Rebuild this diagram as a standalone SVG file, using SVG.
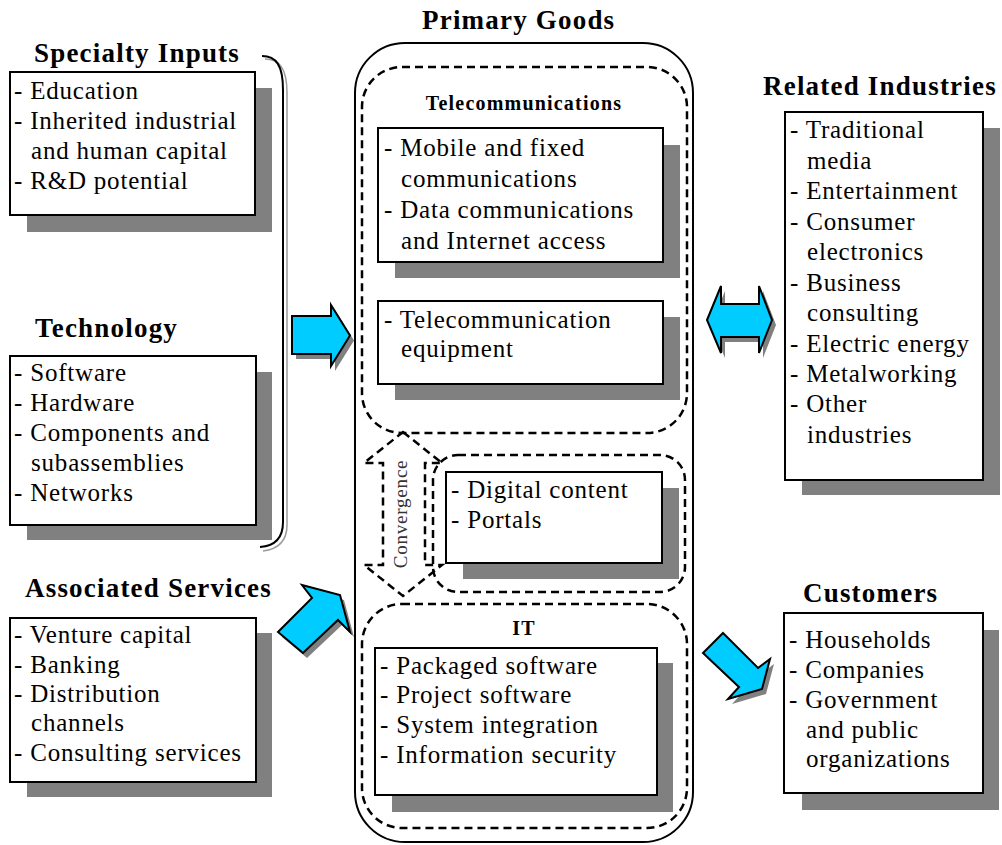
<svg xmlns="http://www.w3.org/2000/svg" width="1002" height="845" viewBox="0 0 1002 845">
<style>
.bg{fill:#fff}
.box{fill:#fff;stroke:#000;stroke-width:2}
.sh{fill:#808080}
.t{font-family:"Liberation Serif","Times New Roman",serif;font-size:25px;letter-spacing:0.8px;fill:#000}
.h{font-family:"Liberation Serif","Times New Roman",serif;font-size:27px;font-weight:bold;letter-spacing:1.2px;fill:#000}
.sub{font-family:"Liberation Serif","Times New Roman",serif;font-size:20px;font-weight:bold;letter-spacing:1.2px;fill:#000;text-anchor:middle}
.dash{fill:none;stroke:#000;stroke-width:2.5;stroke-dasharray:8 5}
.arr{fill:#00CCFF;stroke:#000;stroke-width:2;stroke-linejoin:miter}
.ash{fill:#808080}
</style>
<rect class="bg" x="0" y="0" width="1002" height="845"/>

<g id="specialty-inputs">
  <text class="h" x="34" y="62">Specialty Inputs</text>
  <rect class="sh" x="27" y="88" width="245" height="144"/>
  <rect class="box" x="10" y="72" width="245" height="143"/>
  <text class="t" x="14" y="99">- Education</text>
  <text class="t" x="14" y="129">- Inherited industrial</text>
  <text class="t" x="31" y="159">and human capital</text>
  <text class="t" x="14" y="189">- R&amp;D potential</text>
</g>

<g id="technology">
  <text class="h" x="35" y="337">Technology</text>
  <rect class="sh" x="27" y="372" width="245" height="168"/>
  <rect class="box" x="10" y="356" width="246" height="169"/>
  <text class="t" x="14" y="381">- Software</text>
  <text class="t" x="14" y="411">- Hardware</text>
  <text class="t" x="14" y="441">- Components and</text>
  <text class="t" x="31" y="471">subassemblies</text>
  <text class="t" x="14" y="501">- Networks</text>
</g>

<g id="associated-services">
  <text class="h" x="25" y="597">Associated Services</text>
  <rect class="sh" x="27" y="633" width="245" height="164"/>
  <rect class="box" x="10" y="618" width="246" height="164"/>
  <text class="t" x="14" y="643">- Venture capital</text>
  <text class="t" x="14" y="673">- Banking</text>
  <text class="t" x="14" y="702">- Distribution</text>
  <text class="t" x="31" y="731">channels</text>
  <text class="t" x="14" y="761">- Consulting services</text>
</g>

<g id="primary-goods">
  <text class="h" x="422" y="29">Primary Goods</text>
  <rect x="355" y="43" width="338" height="799" rx="50" ry="50" fill="none" stroke="#000" stroke-width="2"/>
</g>

<g id="telecommunications">
  <rect class="dash" x="362" y="67" width="325" height="366" rx="40" ry="40"/>
  <text class="sub" x="524" y="110">Telecommunications</text>
</g>

<g id="mobile-data">
  <rect class="sh" x="395" y="145" width="285" height="133"/>
  <rect class="box" x="378" y="128" width="285" height="134"/>
  <text class="t" x="384" y="156">- Mobile and fixed</text>
  <text class="t" x="401" y="187">communications</text>
  <text class="t" x="384" y="218">- Data communications</text>
  <text class="t" x="401" y="249">and Internet access</text>
</g>

<g id="telecom-equipment">
  <rect class="sh" x="395" y="317" width="285" height="83"/>
  <rect class="box" x="378" y="301" width="285" height="83"/>
  <text class="t" x="384" y="328">- Telecommunication</text>
  <text class="t" x="401" y="357">equipment</text>
</g>

<g id="convergence">
  <polygon class="dash" points="403,432 442,463 425,463 425,565 442,565 403,596 364,565 383,565 383,463 364,463"/>
  <text x="0" y="0" transform="translate(407,514) rotate(-90)" text-anchor="middle" font-family="'Liberation Serif','Times New Roman',serif" font-size="19" letter-spacing="0.8" fill="#333">Convergence</text>
</g>

<g id="digital-content">
  <rect class="dash" x="433" y="455" width="252" height="137" rx="25" ry="25"/>
  <rect class="sh" x="463" y="488" width="216" height="91"/>
  <rect class="box" x="446" y="472" width="216" height="91"/>
  <text class="t" x="451" y="498">- Digital content</text>
  <text class="t" x="451" y="528">- Portals</text>
</g>

<g id="it">
  <rect class="dash" x="362" y="604" width="325" height="224" rx="40" ry="40"/>
  <text class="sub" x="524" y="635">IT</text>
  <rect class="sh" x="392" y="663" width="281" height="149"/>
  <rect class="box" x="375" y="648" width="282" height="147"/>
  <text class="t" x="380" y="674">- Packaged software</text>
  <text class="t" x="380" y="703">- Project software</text>
  <text class="t" x="380" y="733">- System integration</text>
  <text class="t" x="380" y="763">- Information security</text>
</g>

<g id="related-industries">
  <text class="h" x="763" y="95">Related Industries</text>
  <rect class="sh" x="802" y="128" width="198" height="367"/>
  <rect class="box" x="785" y="112" width="198" height="368"/>
  <text class="t" x="790" y="138">- Traditional</text>
  <text class="t" x="807" y="169">media</text>
  <text class="t" x="790" y="199">- Entertainment</text>
  <text class="t" x="790" y="230">- Consumer</text>
  <text class="t" x="807" y="260">electronics</text>
  <text class="t" x="790" y="291">- Business</text>
  <text class="t" x="807" y="321">consulting</text>
  <text class="t" x="790" y="352">- Electric energy</text>
  <text class="t" x="790" y="382">- Metalworking</text>
  <text class="t" x="790" y="412">- Other</text>
  <text class="t" x="807" y="443">industries</text>
</g>

<g id="customers">
  <text class="h" x="803" y="602">Customers</text>
  <rect class="sh" x="802" y="630" width="197" height="180"/>
  <rect class="box" x="784" y="613" width="199" height="180"/>
  <text class="t" x="789" y="648">- Households</text>
  <text class="t" x="789" y="678">- Companies</text>
  <text class="t" x="789" y="708">- Government</text>
  <text class="t" x="806" y="738">and public</text>
  <text class="t" x="806" y="767">organizations</text>
</g>

<g id="connectors">
  <path d="M265,59 C279,59 287,68 287,93 L287,525 C287,541 279,549 263,551" fill="none" stroke="#9a9a9a" stroke-width="1.5"/>
  <path d="M262,56 C276,56 283,65 283,90 L283,522 C283,538 275,546 260,547" fill="none" stroke="#000" stroke-width="2"/>

  <polygon class="ash" transform="translate(4,5)" points="292,316 331,316 331,305 350,335.5 331,366 331,354 292,354"/>
  <polygon class="arr" points="292,316 331,316 331,305 350,335.5 331,366 331,354 292,354"/>

  <polygon class="ash" transform="translate(4,5)" points="707,320 721,286 721,304 759,304 759,286 772,320 759,353 759,337 721,337 721,353"/>
  <polygon class="arr" points="707,320 721,286 721,304 759,304 759,286 772,320 759,353 759,337 721,337 721,353"/>

  <polygon class="ash" transform="translate(4,5)" points="302,585 340,595 350,632 338,620 303,653 278,632 312,598"/>
  <polygon class="arr" points="302,585 340,595 350,632 338,620 303,653 278,632 312,598"/>

  <polygon class="ash" transform="translate(4,5)" points="723,633 758,668 770,659 762,689 728,699 739,687 703,653"/>
  <polygon class="arr" points="723,633 758,668 770,659 762,689 728,699 739,687 703,653"/>
</g>
</svg>
